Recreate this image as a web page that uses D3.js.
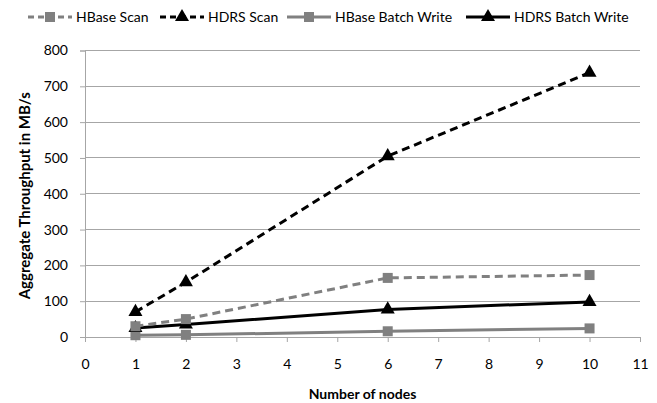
<!DOCTYPE html>
<html><head><meta charset="utf-8">
<script src="https://cdn.jsdelivr.net/npm/d3@7"></script>
<style>body{margin:0;background:#fff}svg{display:block}</style>
</head><body><svg id="c" width="657" height="403"></svg>
<script>
const nodes = [1, 2, 6, 10];
const hbaseScan = [30, 50, 165, 173];
const hdrsScan = [70, 153, 505, 738];
const hbaseBatch = [5, 6, 16, 24];
const hdrsBatch = [25, 35, 77, 98];
const seriesNames = ["HBase Scan", "HDRS Scan", "HBase Batch Write", "HDRS Batch Write"];
const xTicks = d3.range(0, 12);
const yTicks = d3.range(0, 900, 100);

const series = [
  {name: seriesNames[0], values: hbaseScan, color: "#808080", dash: "8,5", marker: "square"},
  {name: seriesNames[1], values: hdrsScan, color: "#000000", dash: "8,5", marker: "triangle"},
  {name: seriesNames[2], values: hbaseBatch, color: "#808080", dash: null, marker: "square"},
  {name: seriesNames[3], values: hdrsBatch, color: "#000000", dash: null, marker: "triangle"}
];

const svg = d3.select("#c");
const font = "Lato, 'Open Sans', sans-serif";
const x = d3.scaleLinear().domain([0, 11]).range([85, 640]);
const y = d3.scaleLinear().domain([0, 800]).range([337, 50.5]);

// gridlines
svg.append("g").selectAll("line").data(yTicks.filter(d => d > 0)).join("line")
  .attr("x1", x(0)).attr("x2", x(11)).attr("y1", d => y(d)).attr("y2", d => y(d))
  .attr("stroke", "#a6a6a6").attr("stroke-width", 1).attr("shape-rendering", "crispEdges");

// y axis
const ya = svg.append("g").attr("transform", `translate(${x(0)},0)`)
  .call(d3.axisLeft(y).tickValues(yTicks).tickSize(5).tickPadding(12));
ya.select(".domain").attr("stroke", "#a6a6a6");
ya.selectAll(".tick line").attr("stroke", "#a6a6a6");
ya.selectAll("text").attr("font-family", font).attr("font-size", 14).attr("fill", "#000");

// x axis
const xa = svg.append("g").attr("transform", `translate(0,${y(0)})`)
  .call(d3.axisBottom(x).tickValues(xTicks).tickSize(5).tickPadding(17));
xa.select(".domain").attr("stroke", "#a6a6a6");
xa.selectAll(".tick line").attr("stroke", "#a6a6a6");
xa.selectAll("text").attr("font-family", font).attr("font-size", 14).attr("fill", "#000");

// axis titles
svg.append("text").attr("x", (x(0) + x(11)) / 2).attr("y", 399).attr("text-anchor", "middle")
  .attr("font-family", font).attr("font-size", 14).attr("font-weight", "bold").text("Number of nodes");
svg.append("text").attr("transform", `translate(30,${(y(0) + y(800)) / 2 + 2}) rotate(-90)`)
  .attr("text-anchor", "middle").attr("font-family", font).attr("font-size", 15).attr("font-weight", "bold")
  .text("Aggregate Throughput in MB/s");

const line = d3.line().x((d, i) => x(nodes[i])).y(d => y(d));
const tri = d3.symbol().type(d3.symbolTriangle).size(85);

function marker(g, s, cx, cy) {
  if (s.marker === "square") {
    g.append("rect").attr("x", cx - 5).attr("y", cy - 5).attr("width", 10).attr("height", 10).attr("fill", s.color);
  } else {
    g.append("path").attr("d", tri()).attr("transform", `translate(${cx},${cy})`).attr("fill", s.color);
  }
}

const order = [2, 3, 0, 1];
order.forEach(k => {
  const s = series[k];
  const g = svg.append("g");
  g.append("path").datum(s.values).attr("d", line).attr("fill", "none")
    .attr("stroke", s.color).attr("stroke-width", 3).attr("stroke-dasharray", s.dash);
  s.values.forEach((v, i) => marker(g, s, x(nodes[i]), y(v)));
});

// legend
const legendX = [28, 160, 287, 466];
series.forEach((s, k) => {
  const g = svg.append("g").attr("transform", `translate(${legendX[k]},17)`);
  g.append("line").attr("x1", 0).attr("x2", 44).attr("y1", 0).attr("y2", 0)
    .attr("stroke", s.color).attr("stroke-width", 3).attr("stroke-dasharray", s.dash ? "6,4" : null);
  marker(g, s, 22, 0);
  g.append("text").attr("x", 48).attr("y", 0).attr("dy", "0.35em").attr("font-family", font)
    .attr("font-size", 14).text(s.name);
});
</script></body></html>
